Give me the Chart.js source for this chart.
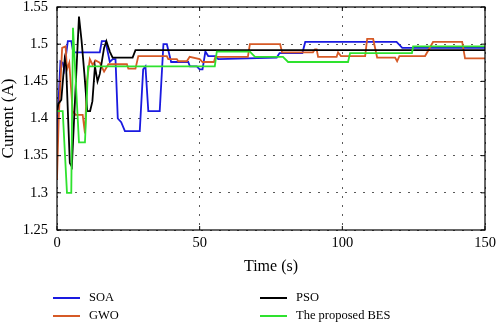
<!DOCTYPE html>
<html>
<head>
<meta charset="utf-8">
<script src="https://cdn.jsdelivr.net/npm/chart.js@4.4.1/dist/chart.umd.min.js"></script>
<style>
  body { margin: 0; background: #fff; }
  .wrap { position: relative; width: 500px; height: 323px; }
  .legend-item {
    position: absolute;
    font-family: "Liberation Serif", serif;
    font-size: 12.5px;
    color: #000;
    line-height: 14px;
    white-space: nowrap;
  }
  .legend-item .line {
    display: inline-block;
    width: 27px;
    height: 2px;
    margin-right: 9px;
    vertical-align: middle;
  }
</style>
</head>
<body>
<div class="wrap">
  <canvas id="chart" width="500" height="323"></canvas>
</div>
<script>
// Data
const yTicks = [1.25, 1.3, 1.35, 1.4, 1.45, 1.5, 1.55];
const xTicks = [0, 50, 100, 150];

const soaT = [0, 0.5, 1.2, 2, 2.5, 3.8, 5, 5.7, 15, 15.7, 17, 18.5, 19.5, 20.5, 21.3, 22.5, 23.8, 29, 30.2, 31, 32, 36, 37.3, 38.5, 40, 46, 46.6, 49, 50, 51, 52, 53, 55.5, 56.5, 77, 78, 86, 87, 119, 121, 150];
const soaV = [1.36, 1.42, 1.477, 1.475, 1.466, 1.504, 1.504, 1.489, 1.489, 1.504, 1.504, 1.476, 1.48, 1.48, 1.40, 1.395, 1.383, 1.383, 1.466, 1.47, 1.41, 1.41, 1.5, 1.5, 1.476, 1.476, 1.47, 1.47, 1.466, 1.466, 1.49, 1.484, 1.484, 1.48, 1.482, 1.488, 1.488, 1.503, 1.503, 1.495, 1.495];

const gwoT = [0, 0.6, 1.8, 3, 3.5, 4.3, 5.5, 6.5, 9, 9.8, 10.5, 11.5, 12.5, 13.5, 15, 16.5, 18, 24.5, 25, 27.5, 28.5, 38.5, 39, 42, 42.5, 45.5, 46.5, 50, 51, 55, 55.5, 66.9, 67.6, 78.2, 78.9, 89.7, 90.4, 91, 91.5, 98, 98.5, 99.5, 108, 108.7, 110.8, 112.2, 118.5, 119.2, 120, 129, 131.8, 142, 143, 150];
const gwoV = [1.318, 1.4, 1.495, 1.497, 1.466, 1.475, 1.41, 1.405, 1.405, 1.38, 1.45, 1.48, 1.472, 1.478, 1.475, 1.463, 1.473, 1.473, 1.467, 1.467, 1.484, 1.484, 1.48, 1.48, 1.477, 1.477, 1.483, 1.48, 1.476, 1.476, 1.483, 1.483, 1.5, 1.5, 1.489, 1.489, 1.493, 1.493, 1.483, 1.483, 1.489, 1.484, 1.484, 1.507, 1.507, 1.482, 1.482, 1.477, 1.484, 1.484, 1.503, 1.503, 1.481, 1.481];

const psoT = [0, 0.5, 1.5, 2.7, 3.2, 4.5, 5.2, 7.7, 8.6, 9.6, 10.6, 11.6, 12.4, 13.3, 14.2, 15, 16.5, 17.3, 18.5, 19.5, 26.5, 27.5, 150];
const psoV = [1.41, 1.42, 1.425, 1.48, 1.47, 1.34, 1.335, 1.537, 1.505, 1.46, 1.41, 1.41, 1.423, 1.47, 1.45, 1.46, 1.495, 1.504, 1.49, 1.482, 1.482, 1.492, 1.492];

const besT = [0, 2, 3.5, 5, 5.6, 7.7, 9.8, 10.9, 55.3, 56, 67.6, 69.4, 79.2, 81, 102, 102.7, 124.4, 124.8, 150];
const besV = [1.41, 1.41, 1.30, 1.30, 1.522, 1.368, 1.368, 1.47, 1.47, 1.49, 1.49, 1.483, 1.483, 1.476, 1.476, 1.488, 1.488, 1.497, 1.497];

const series = [
  { label: "SOA", t: soaT, v: soaV, color: "#1a1ae0" },
  { label: "GWO", t: gwoT, v: gwoV, color: "#d65a26" },
  { label: "PSO", t: psoT, v: psoV, color: "#000000" },
  { label: "The proposed BES", t: besT, v: besV, color: "#2ee22e" }
];

const FONT = '"Liberation Serif", serif';

// legend below the plot, two columns
const legendPos = [
  { left: 53, top: 290 },
  { left: 53, top: 308 },
  { left: 260, top: 290 },
  { left: 260, top: 308 }
];
const wrap = document.querySelector(".wrap");
series.forEach((s, i) => {
  let item = document.createElement("div");
  item.className = "legend-item";
  item.style.left = legendPos[i].left + "px";
  item.style.top = legendPos[i].top + "px";
  item.innerHTML = '<span class="line" style="background:' + s.color + '"></span>' + s.label;
  wrap.append(item);
});

// frame, inward ticks and axis titles
const framePlugin = {
  id: "frame",
  afterDatasetsDraw(chart) {
    const { ctx, chartArea: a, scales } = chart;
    ctx.save();
    ctx.strokeStyle = "#000";
    ctx.lineWidth = 1.2;
    ctx.strokeRect(a.left, a.top, a.right - a.left, a.bottom - a.top);

    ctx.lineWidth = 1;
    ctx.beginPath();
    for (let v of yTicks) {
      let y = scales.y.getPixelForValue(v);
      ctx.moveTo(a.left, y); ctx.lineTo(a.left + 4, y);
      ctx.moveTo(a.right, y); ctx.lineTo(a.right - 4, y);
    }
    for (let v of xTicks) {
      let x = scales.x.getPixelForValue(v);
      ctx.moveTo(x, a.bottom); ctx.lineTo(x, a.bottom - 4);
      ctx.moveTo(x, a.top); ctx.lineTo(x, a.top + 4);
    }
    ctx.stroke();

    ctx.fillStyle = "#000";
    ctx.textAlign = "center";
    ctx.textBaseline = "middle";
    ctx.font = "16px " + FONT;
    ctx.fillText("Time (s)", (a.left + a.right) / 2, 267);
    ctx.font = "17px " + FONT;
    ctx.translate(9, (a.top + a.bottom) / 2);
    ctx.rotate(-Math.PI / 2);
    ctx.fillText("Current (A)", 0, 0);
    ctx.restore();
  }
};

const ctx = document.getElementById("chart").getContext("2d");

new Chart(ctx, {
  type: "line",
  data: {
    datasets: series.map((s, i) => ({
      label: s.label,
      data: s.t.map((t, k) => ({ x: t, y: s.v[k] })),
      borderColor: s.color,
      borderWidth: 1.8,
      pointRadius: 0,
      tension: 0,
      fill: false,
      order: 3 - i
    }))
  },
  options: {
    responsive: false,
    animation: false,
    layout: { padding: { top: 7, right: 15 } },
    plugins: {
      legend: { display: false },
      tooltip: { enabled: false }
    },
    scales: {
      x: {
        type: "linear",
        min: 0,
        max: 150,
        afterBuildTicks: (scale) => { scale.ticks = xTicks.map(v => ({ value: v })); },
        afterFit: (scale) => { scale.height = 93; scale.paddingLeft = 0; scale.paddingRight = 0; },
        ticks: { color: "#000", font: { family: FONT, size: 14.5 }, padding: 4, maxRotation: 0 },
        grid: { color: "rgba(0,0,0,0.65)", lineWidth: 1, drawTicks: false },
        border: { display: false, dash: [2, 7] }
      },
      y: {
        min: 1.25,
        max: 1.55,
        afterBuildTicks: (scale) => { scale.ticks = yTicks.map(v => ({ value: v })); },
        afterFit: (scale) => { scale.width = 57; scale.paddingTop = 0; scale.paddingBottom = 0; },
        ticks: {
          color: "#000",
          font: { family: FONT, size: 14.5 },
          padding: 9,
          callback: (v) => String(+v.toFixed(2))
        },
        grid: { color: "rgba(0,0,0,0.65)", lineWidth: 1, drawTicks: false },
        border: { display: false, dash: [2, 7] }
      }
    }
  },
  plugins: [framePlugin]
});
</script>
</body>
</html>
